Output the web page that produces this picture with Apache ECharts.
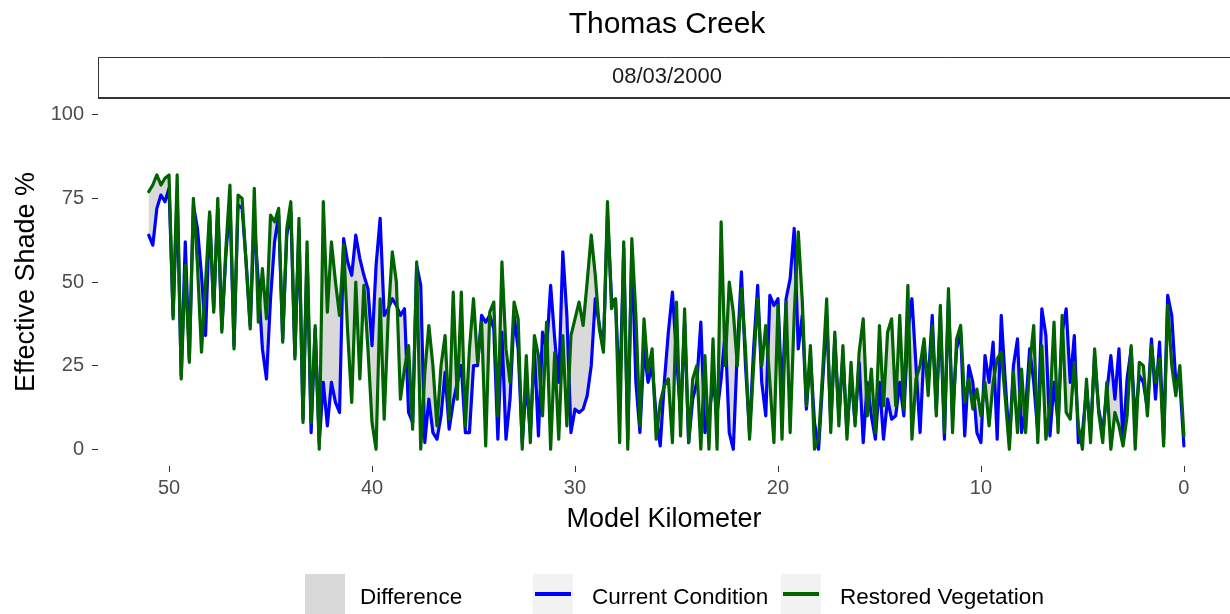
<!DOCTYPE html>
<html>
<head>
<meta charset="utf-8">
<script src="https://cdn.jsdelivr.net/npm/echarts@6/dist/echarts.min.js"></script>
<style>
html,body{margin:0;padding:0;background:#fff;}
#chart{width:1230px;height:614px;}
</style>
</head>
<body>
<div id="chart"></div>
<script>
// Model kilometer stations
const km = [
51,50.8,50.6,50.4,50.2,50,49.8,49.6,49.4,49.2,
49,48.8,48.6,48.4,48.2,48,47.8,47.6,47.4,47.2,
47,46.8,46.6,46.4,46.2,46,45.8,45.6,45.4,45.2,
45,44.8,44.6,44.4,44.2,44,43.8,43.6,43.4,43.2,
43,42.8,42.6,42.4,42.2,42,41.8,41.6,41.4,41.2,
41,40.8,40.6,40.4,40.2,40,39.8,39.6,39.4,39.2,
39,38.8,38.6,38.4,38.2,38,37.8,37.6,37.4,37.2,
37,36.8,36.6,36.4,36.2,36,35.8,35.6,35.4,35.2,
35,34.8,34.6,34.4,34.2,34,33.8,33.6,33.4,33.2,
33,32.8,32.6,32.4,32.2,32,31.8,31.6,31.4,31.2,
31,30.8,30.6,30.4,30.2,30,29.8,29.6,29.4,29.2,
29,28.8,28.6,28.4,28.2,28,27.8,27.6,27.4,27.2,
27,26.8,26.6,26.4,26.2,26,25.8,25.6,25.4,25.2,
25,24.8,24.6,24.4,24.2,24,23.8,23.6,23.4,23.2,
23,22.8,22.6,22.4,22.2,22,21.8,21.6,21.4,21.2,
21,20.8,20.6,20.4,20.2,20,19.8,19.6,19.4,19.2,
19,18.8,18.6,18.4,18.2,18,17.8,17.6,17.4,17.2,
17,16.8,16.6,16.4,16.2,16,15.8,15.6,15.4,15.2,
15,14.8,14.6,14.4,14.2,14,13.8,13.6,13.4,13.2,
13,12.8,12.6,12.4,12.2,12,11.8,11.6,11.4,11.2,
11,10.8,10.6,10.4,10.2,10,9.8,9.6,9.4,9.2,
9,8.8,8.6,8.4,8.2,8,7.8,7.6,7.4,7.2,
7,6.8,6.6,6.4,6.2,6,5.8,5.6,5.4,5.2,
5,4.8,4.6,4.4,4.2,4,3.8,3.6,3.4,3.2,
3,2.8,2.6,2.4,2.2,2,1.8,1.6,1.4,1.2,
1,0.8,0.6,0.4,0.2,0
];

// Current Condition effective shade (%)
const currentCondition = [
64,61,72,76,74,78,40,76,22,62,
27,73,66,52,34,70,42,72,36,58,
74,31,73,72,56,37,68,50,30,21,
45,62,70,33,64,71,28,66,9,58,
5,36,2,20,7,20,14,11,63,56,
52,64,57,52,48,31,55,69,40,42,
45,43,40,42,11,8,55,49,2,15,
5,3,10,23,6,14,20,25,5,5,
25,25,40,38,40,36,3,35,3,15,
40,30,2,20,5,30,4,35,30,49,
33,20,59,40,5,12,11,12,16,25,
45,37,30,70,45,44,15,60,3,60,
20,5,30,20,25,10,1,20,35,47,
28,10,38,2,15,20,38,5,10,20,
11,21,35,5,0,30,53,25,5,30,
49,20,10,46,43,45,15,45,51,66,
30,40,12,28,8,0,20,40,8,33,
10,28,5,22,8,26,2,20,10,3,
20,3,15,9,10,20,10,35,45,25,
5,30,20,40,12,40,3,45,10,30,
35,4,25,20,5,2,28,20,32,3,
40,20,2,25,33,5,12,30,20,5,
42,34,4,20,8,35,42,20,34,2,
5,18,5,28,12,5,17,28,15,30,
2,21,30,8,22,20,12,33,15,32,
3,46,40,20,20,1
];

// Restored Vegetation effective shade (%)
const restoredVegetation = [
77,79,82,79,81,82,39,82,21,55,
26,75,55,29,50,71,41,75,35,60,
79,30,76,75,55,36,78,38,54,39,
70,68,72,32,66,74,27,69,8,62,
8,37,0,74,41,62,50,40,61,35,
14,50,21,49,30,8,0,45,9,40,
59,50,15,24,31,6,56,0,23,37,
25,7,25,34,9,47,15,47,7,30,
45,26,38,1,41,44,10,56,30,20,
44,39,0,28,2,34,28,10,38,0,
29,3,34,7,34,39,44,37,50,64,
52,36,29,74,42,45,2,62,0,63,
40,7,39,23,30,3,14,19,21,2,
44,4,42,2,21,25,0,28,0,33,
0,68,25,50,41,25,48,30,3,25,
45,25,37,20,2,43,3,44,5,40,
65,44,13,31,0,3,23,45,5,35,
7,31,3,26,7,29,39,10,24,5,
37,13,35,39,13,40,12,49,3,21,
25,33,16,37,10,43,5,48,5,33,
37,14,21,12,18,10,20,7,20,27,
29,15,0,23,5,24,5,25,37,2,
31,3,13,38,5,40,11,9,26,7,
0,21,2,30,11,2,20,0,11,7,
1,10,31,0,26,25,10,31,20,27,
1,43,25,16,25,4
];

const xTicks = [0, 10, 20, 30, 40, 50];
const yTicks = [0, 25, 50, 75, 100];
const titleText = 'Thomas Creek';
const stripText = '08/03/2000';
const xTitle = 'Model Kilometer';
const yTitle = 'Effective Shade %';
const legendNames = ['Difference', 'Current Condition', 'Restored Vegetation'];

const BLUE = '#0000FF';
const GREEN = '#006400';
const RIBBON = 'rgba(185,185,185,0.55)';
const FONT = "'Liberation Sans', Arial, Helvetica, sans-serif";

const curData = km.map((k, i) => [k, currentCondition[i]]);
const resData = km.map((k, i) => [k, restoredVegetation[i]]);

// Legend key images: 40x40 key drawn in the top of a 40x48 box so the label sits a little lower
function svgIcon(inner) {
  const svg = "<svg xmlns='http://www.w3.org/2000/svg' width='40' height='48' viewBox='0 0 40 48'>" + inner + "</svg>";
  return 'image://data:image/svg+xml;charset=utf-8,' + encodeURIComponent(svg);
}
const iconDiff = svgIcon("<rect x='0' y='0' width='40' height='40' fill='#D9D9D9'/>");
const iconCur = svgIcon("<rect x='0' y='0' width='40' height='40' fill='#F2F2F2'/><line x1='2' y1='20' x2='38' y2='20' stroke='" + BLUE + "' stroke-width='4'/>");
const iconRes = svgIcon("<rect x='0' y='0' width='40' height='40' fill='#F2F2F2'/><line x1='2' y1='20' x2='38' y2='20' stroke='" + GREEN + "' stroke-width='4'/>");

function mkLegend(left, name, icon, pad) {
  return {
    left: left, top: 574, orient: 'horizontal',
    itemWidth: 40, itemHeight: 48, padding: 0,
    selectedMode: false,
    data: [{ name: name, icon: icon }],
    textStyle: { fontFamily: FONT, fontSize: 22.5, color: '#000', padding: [0, 0, 0, pad] }
  };
}

// Ribbon between the two series (like geom_ribbon): forward along one, back along the other
function renderRibbon(params, api) {
  if (params.dataIndex !== 0) return null;
  const pts = [];
  for (let i = 0; i < km.length; i++) pts.push(api.coord([km[i], restoredVegetation[i]]));
  for (let i = km.length - 1; i >= 0; i--) pts.push(api.coord([km[i], currentCondition[i]]));
  return { type: 'polygon', shape: { points: pts }, style: { fill: RIBBON } };
}

const chart = echarts.init(document.getElementById('chart'), null, { renderer: 'canvas' });
const option = {
  animation: false,
  backgroundColor: '#ffffff',
  grid: { left: 98, right: 0, top: 98, bottom: 148, containLabel: false },
  xAxis: {
    type: 'value', inverse: true, min: -2.27, max: 53.5,
    name: xTitle, nameLocation: 'middle', nameGap: 40,
    nameTextStyle: { fontFamily: FONT, fontSize: 27, color: '#000' },
    axisLine: { show: false, onZero: false },
    axisTick: { show: true, length: 6, customValues: xTicks, lineStyle: { color: '#333', width: 1 } },
    axisLabel: { customValues: xTicks, fontFamily: FONT, fontSize: 20, color: '#4D4D4D', margin: 12 },
    splitLine: { show: false }
  },
  yAxis: {
    type: 'value', min: -5, max: 105,
    name: yTitle, nameLocation: 'middle', nameGap: 44, nameRotate: 90,
    nameTextStyle: { fontFamily: FONT, fontSize: 27, color: '#000' },
    axisLine: { show: false, onZero: false },
    axisTick: { show: true, length: 6, customValues: yTicks, lineStyle: { color: '#333', width: 1 } },
    axisLabel: { customValues: yTicks, fontFamily: FONT, fontSize: 20, color: '#4D4D4D', margin: 14 },
    splitLine: { show: false }
  },
  legend: [
    mkLegend(305, legendNames[0], iconDiff, 10),
    mkLegend(533, legendNames[1], iconCur, 14),
    mkLegend(781, legendNames[2], iconRes, 14)
  ],
  graphic: [
    { type: 'text', x: 667, y: 25, z: 10,
      style: { text: titleText, font: '30px ' + FONT, fill: '#000', textAlign: 'center', textVerticalAlign: 'middle' } },
    { type: 'rect', shape: { x: 98.5, y: 57.5, width: 1140, height: 40 }, z: 5,
      style: { fill: '#FFFFFF', stroke: '#333333', lineWidth: 1 } },
    { type: 'line', shape: { x1: 98, y1: 98, x2: 1230, y2: 98 }, z: 6,
      style: { stroke: '#333333', lineWidth: 2 } },
    { type: 'text', x: 667, y: 77, z: 7,
      style: { text: stripText, font: '22px ' + FONT, fill: '#1A1A1A', textAlign: 'center', textVerticalAlign: 'middle' } }
  ],
  series: [
    {
      name: legendNames[0], type: 'custom', z: 1, silent: true,
      data: [[km[0], currentCondition[0]]],
      encode: { x: 0, y: 1 },
      itemStyle: { color: '#D9D9D9' },
      renderItem: renderRibbon
    },
    {
      name: legendNames[1], type: 'line', data: curData, showSymbol: false, z: 2,
      lineStyle: { color: BLUE, width: 3.2, join: 'round', cap: 'round' }, itemStyle: { color: BLUE }, silent: true
    },
    {
      name: legendNames[2], type: 'line', data: resData, showSymbol: false, z: 3,
      lineStyle: { color: GREEN, width: 3.2, join: 'round', cap: 'round' }, itemStyle: { color: GREEN }, silent: true
    }
  ]
};
chart.setOption(option);
</script>
</body>
</html>
